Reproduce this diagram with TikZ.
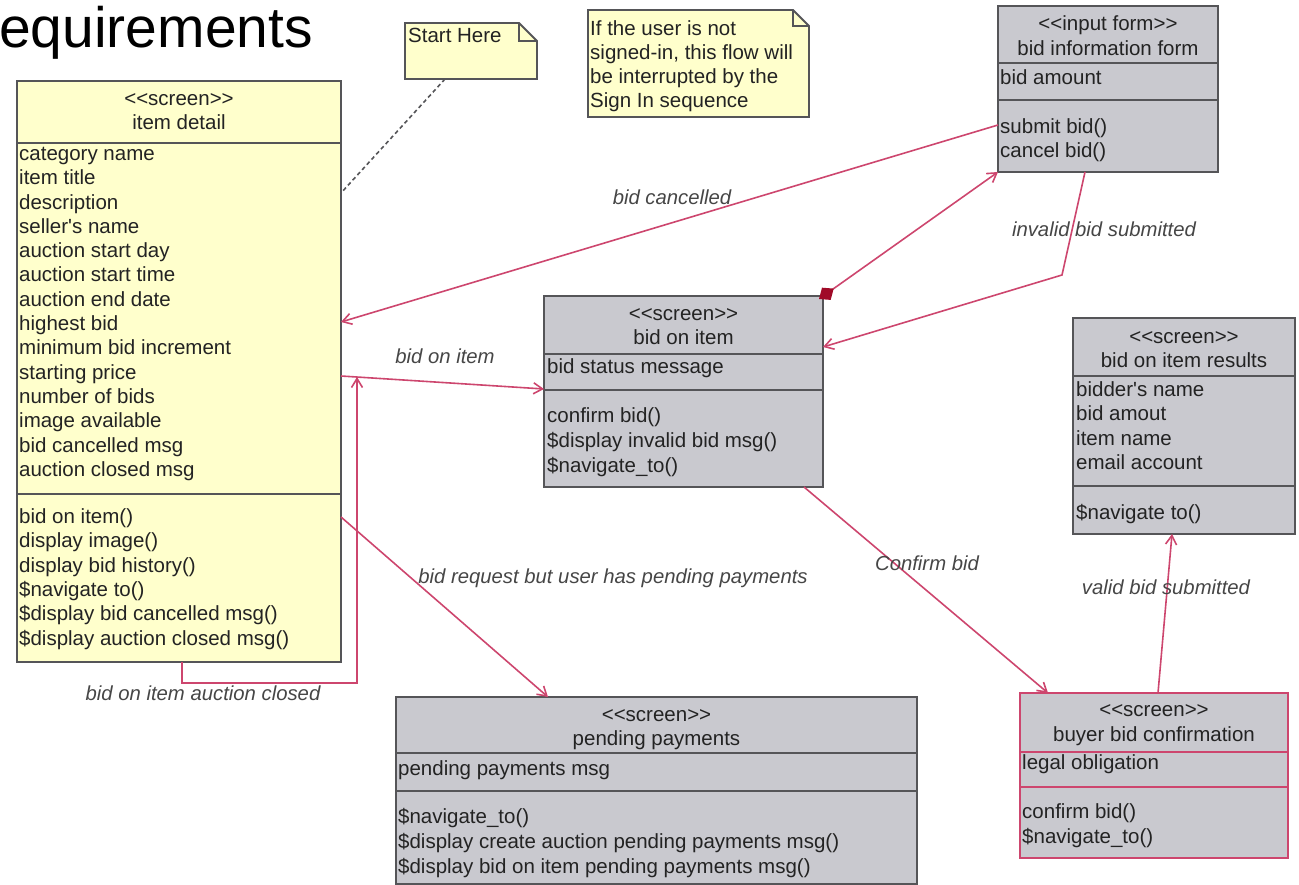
\documentclass[tikz,border=0pt]{standalone}
\usepackage{fontspec}
\setmainfont{Liberation Sans}
\usetikzlibrary{arrows.meta,calc}
\definecolor{ylw}{RGB}{255,255,204}
\definecolor{gry}{RGB}{201,201,207}
\definecolor{bord}{RGB}{85,85,88}
\definecolor{lnk}{RGB}{205,70,110}
\definecolor{dia}{RGB}{160,10,40}
\definecolor{txtc}{RGB}{35,35,35}
\definecolor{lblc}{RGB}{70,70,70}
\newcommand\clslines[5]{%
  \foreach \t [count=\i] in {#5} {\node[txt, anchor=base west, name=#1\i] at (#2, {#3+5.5+#4*(\i-1)}) {\t};}}
\newcommand\stereo[1]{\textless\kern0pt\textless\kern0pt#1\kern0pt\textgreater\kern0pt\textgreater}
\newcommand\apos{\textquotesingle}
\begin{document}
\begin{tikzpicture}[x=1pt,y=-1pt,
  cls/.style={draw=bord, line width=1.8pt, anchor=north west, inner sep=0pt, outer sep=0pt},
  sepl/.style={draw=bord, line width=1.8pt},
  txt/.style={inner sep=0pt, text=txtc, font=\fontsize{20.5}{24}\selectfont},
  lbl/.style={inner sep=0pt, text=lblc, font=\fontsize{20.3}{24}\selectfont\itshape},
  lnkst/.style={draw=lnk, line width=1.6pt, -{Straight Barb[length=9pt,width=11pt]}},
  notest/.style={draw=bord, line width=1.8pt, fill=ylw},
  notebox/.style={anchor=north west, inner sep=0pt, outer sep=0pt},
]
\useasboundingbox (0,0) rectangle (1299,885);

% title
\node[inner sep=0pt, anchor=base west, font=\fontsize{57}{62}\selectfont] (title) at (-1,48) {equirements};

% Start Here note
\node[notebox, minimum width=132pt, minimum height=56pt] (startnote) at (405,23) {};
\draw[notest] (startnote.north west) -- ([xshift=-18pt]startnote.north east) -- ([yshift=-18pt]startnote.north east) -- (startnote.south east) -- (startnote.south west) -- cycle;
\draw[draw=bord, line width=1.5pt] ([xshift=-18pt]startnote.north east) |- ([yshift=-18pt]startnote.north east);
\node[txt, anchor=base west] (starttxt) at (408,42.5) {Start Here};

% sign-in note
\node[notebox, minimum width=221pt, minimum height=107pt] (signnote) at (588,10) {};
\draw[notest] (signnote.north west) -- ([xshift=-16pt]signnote.north east) -- ([yshift=-16pt]signnote.north east) -- (signnote.south east) -- (signnote.south west) -- cycle;
\draw[draw=bord, line width=1.5pt] ([xshift=-16pt]signnote.north east) |- ([yshift=-16pt]signnote.north east);
\clslines{sn}{590}{30}{24}{If the user is not,{signed-in, this flow will},be interrupted by the,Sign In sequence}

% item detail
\node[cls, fill=ylw, minimum width=324pt, minimum height=581pt] (item) at (17,81) {};
\draw[sepl] (item.west |- 0,143) -- (item.east |- 0,143);
\draw[sepl] (item.west |- 0,494) -- (item.east |- 0,494);
\node[txt, anchor=base] (itemst) at (179,105.5) {\stereo{screen}};
\node[txt, anchor=base] (itemname) at (179,129.5) {item detail};
\clslines{ia}{19}{155}{24.3}{category name,item title,description,seller\apos s name,auction start day,auction start time,auction end date,highest bid,minimum bid increment,starting price,number of bids,image available,bid cancelled msg,auction closed msg}
\clslines{im}{19}{518}{24.3}{bid on item(),display image(),display bid history(),\$navigate to(),\$display bid cancelled msg(),\$display auction closed msg()}

% bid information form
\node[cls, fill=gry, minimum width=220pt, minimum height=166pt] (bidform) at (998,6) {};
\draw[sepl] (bidform.west |- 0,63) -- (bidform.east |- 0,63);
\draw[sepl] (bidform.west |- 0,100) -- (bidform.east |- 0,100);
\node[txt, anchor=base] (bfst) at (1108,30.5) {\stereo{input form}};
\node[txt, anchor=base] (bfname) at (1108,55.5) {bid information form};
\clslines{bfa}{1000}{79}{24}{bid amount}
\clslines{bfm}{1000}{128}{24}{submit bid(),cancel bid()}

% bid on item
\node[cls, fill=gry, minimum width=279pt, minimum height=191pt] (bidonitem) at (544,296) {};
\draw[sepl] (bidonitem.west |- 0,354) -- (bidonitem.east |- 0,354);
\draw[sepl] (bidonitem.west |- 0,390) -- (bidonitem.east |- 0,390);
\node[txt, anchor=base] (boist) at (683.5,320.5) {\stereo{screen}};
\node[txt, anchor=base] (boiname) at (683.5,344.5) {bid on item};
\clslines{boia}{547}{368}{24}{bid status message}
\clslines{boim}{547}{417}{25}{confirm bid(),\$display invalid bid msg(),\$navigate\_to()}

% bid on item results
\node[cls, fill=gry, minimum width=222pt, minimum height=216pt] (results) at (1073,318) {};
\draw[sepl] (results.west |- 0,376) -- (results.east |- 0,376);
\draw[sepl] (results.west |- 0,486) -- (results.east |- 0,486);
\node[txt, anchor=base] (resst) at (1184,343.5) {\stereo{screen}};
\node[txt, anchor=base] (resname) at (1184,367.5) {bid on item results};
\clslines{resa}{1076}{391}{24.3}{bidder\apos s name,bid amout,item name,email account}
\clslines{resm}{1076}{514}{24}{\$navigate to()}

% pending payments
\node[cls, fill=gry, minimum width=521pt, minimum height=187pt] (pending) at (396,697) {};
\draw[sepl] (pending.west |- 0,753) -- (pending.east |- 0,753);
\draw[sepl] (pending.west |- 0,791) -- (pending.east |- 0,791);
\node[txt, anchor=base] (ppst) at (656.5,721.5) {\stereo{screen}};
\node[txt, anchor=base] (ppname) at (656.5,745.5) {pending payments};
\clslines{ppa}{398}{770}{24}{pending payments msg}
\clslines{ppm}{398}{818}{25}{\$navigate\_to(),\$display create auction pending payments msg(),\$display bid on item pending payments msg()}

% buyer bid confirmation
\node[cls, draw=lnk, fill=gry, minimum width=268pt, minimum height=165pt] (buyer) at (1020,693) {};
\draw[sepl, draw=lnk] (buyer.west |- 0,752) -- (buyer.east |- 0,752);
\draw[sepl, draw=lnk] (buyer.west |- 0,787) -- (buyer.east |- 0,787);
\node[txt, anchor=base] (bbst) at (1154,716.5) {\stereo{screen}};
\node[txt, anchor=base] (bbname) at (1154,741.5) {buyer bid confirmation};
\clslines{bba}{1022}{764}{24}{legal obligation}
\clslines{bbm}{1022}{813}{25}{confirm bid(),\$navigate\_to()}

% note anchor
\draw[draw=bord, line width=1.6pt, dash pattern=on 4pt off 3pt] (startnote.south -| 445,0) -- (item.east |- 0,193);

% connectors
\draw[lnkst] (bidform.west |- 0,125) -- (item.east |- 0,322);
\node[lbl] (lcancel) at (672,197) {bid cancelled};

\draw[draw=lnk, line width=1.6pt, {Diamond[length=18pt,width=15pt,color=dia]}-{Straight Barb[length=9pt,width=11pt]}] ([xshift=-4pt,yshift=-3pt]bidonitem.north east) -- (bidform.south west);

\draw[lnkst] (bidform.south -| 1085,0) -- (1062,275) -- (bidonitem.east |- 0,347);
\node[lbl] (linvalid) at (1104,229) {invalid bid submitted};

\draw[lnkst] (item.east |- 0,376) -- (bidonitem.west |- 0,389);
\node[lbl] (lbid) at (445,356) {bid on item};

\draw[lnkst] (item.south -| 182,0) -- (182,683) -- (357,683) -- (357,377);
\node[lbl] (lclosed) at (203,693) {bid on item auction closed};

\draw[lnkst] (item.east |- 0,517) -- (pending.north -| 548,0);
\node[lbl] (lpending) at (613,578) {bid request but user has pending payments};

\draw[lnkst] (bidonitem.south -| 804,0) -- (buyer.north -| 1048,0);
\node[lbl] (lconfirm) at (927,563) {Confirm bid};

\draw[lnkst] (buyer.north -| 1158,0) -- (results.south -| 1172,0);
\node[lbl] (lvalid) at (1166,587) {valid bid submitted};
\end{tikzpicture}
\end{document}
